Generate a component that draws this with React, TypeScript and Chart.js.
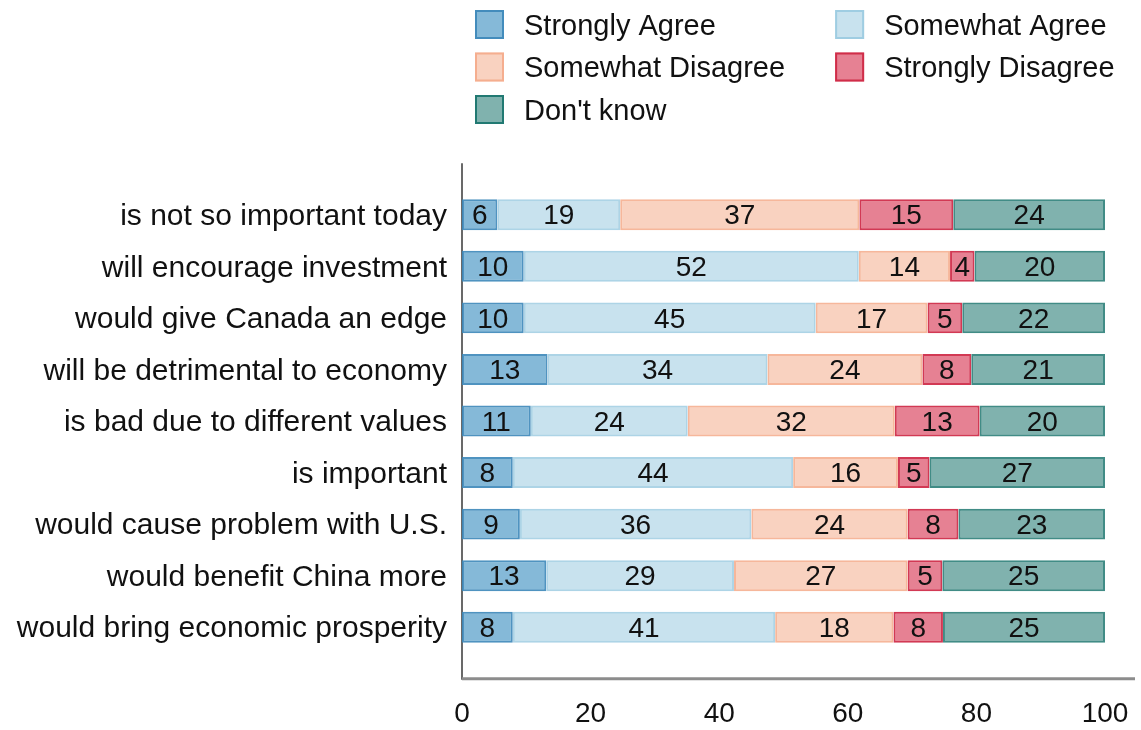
import React, { useEffect, useRef } from "react";
import { Chart, registerables } from "chart.js";

Chart.register(...registerables);

const categories = [
  "is not so important today",
  "will encourage investment",
  "would give Canada an edge",
  "will be detrimental to economy",
  "is bad due to different values",
  "is important",
  "would cause problem with U.S.",
  "would benefit China more",
  "would bring economic prosperity",
];

const seriesNames = [
  "Strongly Agree",
  "Somewhat Agree",
  "Somewhat Disagree",
  "Strongly Disagree",
  "Don't know",
];

const stronglyAgree = [5.5, 9.6, 9.6, 13.3, 10.7, 7.9, 9.0, 13.1, 7.9];
const somewhatAgree = [19.1, 52.1, 45.4, 34.2, 24.4, 43.6, 36.0, 29.2, 40.8];
const somewhatDisagree = [37.2, 14.2, 17.4, 24.1, 32.2, 16.3, 24.3, 27.0, 18.4];
const stronglyDisagree = [14.6, 3.8, 5.4, 7.6, 13.2, 4.9, 7.9, 5.4, 7.7];
const dontKnow = [23.6, 20.3, 22.2, 20.8, 19.5, 27.3, 22.8, 25.3, 25.2];

const xTickValues = [0, 20, 40, 60, 80, 100];

const fills = [
  "rgba(67,147,195,0.65)",
  "rgba(146,197,222,0.5)",
  "rgba(244,165,130,0.5)",
  "rgba(214,45,75,0.6)",
  "rgba(1,102,94,0.5)",
];
const borders = [
  "rgba(60,135,185,0.9)",
  "rgba(146,197,222,0.75)",
  "rgba(244,165,130,0.8)",
  "rgba(205,35,65,0.9)",
  "rgba(1,102,94,0.75)",
];

const FONT = "'Liberation Sans', Arial, Helvetica, sans-serif";
const TEXT = "#111111";

const axisLinesPlugin = {
  id: "axisLines",
  beforeDatasetsDraw(chart: any) {
    const { ctx, chartArea } = chart;
    const band = (chartArea.bottom - chartArea.top) / categories.length;
    ctx.save();
    ctx.strokeStyle = "rgb(105,105,105)";
    ctx.lineWidth = 2;
    ctx.beginPath();
    ctx.moveTo(chartArea.left, chartArea.top - band / 2);
    ctx.lineTo(chartArea.left, chartArea.bottom + band / 2 + 1);
    ctx.stroke();
    ctx.strokeStyle = "rgb(140,140,140)";
    ctx.lineWidth = 3;
    ctx.beginPath();
    ctx.moveTo(chartArea.left, chartArea.bottom + band / 2);
    ctx.lineTo(chartArea.right + 30, chartArea.bottom + band / 2);
    ctx.stroke();
    ctx.restore();
  },
};

const dataLabelsPlugin = {
  id: "dataLabels",
  afterDatasetsDraw(chart: any) {
    const { ctx } = chart;
    ctx.save();
    ctx.font = `28px ${FONT}`;
    ctx.fillStyle = TEXT;
    ctx.textAlign = "center";
    ctx.textBaseline = "middle";
    chart.data.datasets.forEach((ds: any, i: number) => {
      const meta = chart.getDatasetMeta(i);
      meta.data.forEach((el: any, j: number) => {
        const v = ds.data[j];
        const cx = (el.x + el.base) / 2;
        ctx.fillText(String(Math.round(v)), cx, el.y + 2);
      });
    });
    ctx.restore();
  },
};

const legendPlugin = {
  id: "customLegend",
  afterDraw(chart: any) {
    const { ctx, chartArea } = chart;
    const ds = chart.data.datasets;
    ctx.save();
    ctx.font = `29px ${FONT}`;
    ctx.textBaseline = "middle";
    ctx.textAlign = "left";
    const box = 29;
    const gap = 20;
    const col1X = chartArea.left + 13;
    let maxW = 0;
    ds.forEach((d: any, i: number) => {
      if (i % 2 === 0) maxW = Math.max(maxW, ctx.measureText(d.label).width);
    });
    const col2X = col1X + box + gap + maxW + 50;
    const rowTop = 10;
    const rowH = 42.5;
    ds.forEach((d: any, i: number) => {
      const col = i % 2;
      const row = Math.floor(i / 2);
      const x = col === 0 ? col1X : col2X;
      const y = rowTop + row * rowH;
      ctx.fillStyle = "#ffffff";
      ctx.fillRect(x, y, box, box);
      ctx.fillStyle = d.backgroundColor;
      ctx.fillRect(x, y, box, box);
      ctx.strokeStyle = d.borderColor;
      ctx.lineWidth = 2;
      ctx.strokeRect(x + 1, y + 1, box - 2, box - 2);
      ctx.fillStyle = TEXT;
      ctx.fillText(d.label, x + box + gap, y + box / 2 + 2);
    });
    ctx.restore();
  },
};

export default function App() {
  const canvasRef = useRef<HTMLCanvasElement | null>(null);

  useEffect(() => {
    if (!canvasRef.current) return;
    Chart.defaults.font.family = FONT;
    const seriesData = [stronglyAgree, somewhatAgree, somewhatDisagree, stronglyDisagree, dontKnow];
    const chart = new Chart(canvasRef.current, {
      type: "bar",
      data: {
        labels: categories,
        datasets: seriesNames.map((name, i) => ({
          label: name,
          data: seriesData[i],
          backgroundColor: fills[i],
          borderColor: borders[i],
          borderWidth: 2,
          borderSkipped: false,
          barPercentage: 0.6,
          categoryPercentage: 1,
        })),
      },
      options: {
        indexAxis: "y",
        animation: false,
        responsive: true,
        maintainAspectRatio: false,
        layout: { padding: { top: 189, right: 36, bottom: 0, left: 0 } },
        plugins: {
          legend: { display: false },
          tooltip: { enabled: false },
          title: { display: false },
        },
        scales: {
          x: {
            type: "linear",
            stacked: true,
            min: 0,
            max: 100,
            grid: { display: false, drawTicks: true, tickLength: 44 },
            border: { display: false },
            afterBuildTicks: (scale: any) => {
              scale.ticks = xTickValues.map((v) => ({ value: v }));
            },
            ticks: {
              font: { size: 28, family: FONT },
              color: TEXT,
              padding: 0,
              maxRotation: 0,
            },
            afterFit: (scale: any) => {
              scale.height = 77;
            },
          },
          y: {
            type: "category",
            stacked: true,
            offset: true,
            grid: { display: false, drawTicks: false },
            border: { display: false },
            ticks: {
              font: { size: 30, family: FONT },
              color: TEXT,
              padding: 15,
              labelOffset: 2,
              autoSkip: false,
            },
            afterFit: (scale: any) => {
              scale.width = 462;
            },
          },
        },
      },
      plugins: [axisLinesPlugin, dataLabelsPlugin, legendPlugin],
    });
    return () => chart.destroy();
  }, []);

  return (
    <div style={{ position: "fixed", left: 0, top: 0, width: 1141, height: 730, background: "#ffffff" }}>
      <canvas ref={canvasRef} />
    </div>
  );
}
